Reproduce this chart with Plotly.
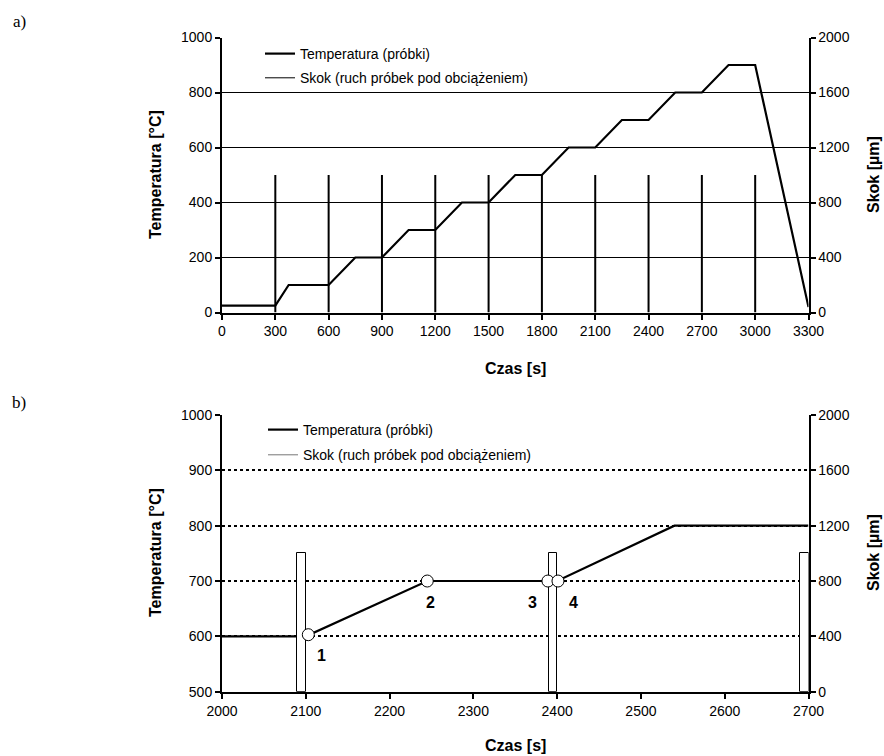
import plotly.graph_objects as go

# ---------------- data: panel a) ----------------
temp_time_a = [0, 300, 375, 600, 750, 900, 1050, 1200, 1350, 1500, 1650, 1800,
               1950, 2100, 2250, 2400, 2550, 2700, 2850, 3000, 3300]
temp_a = [25, 25, 100, 100, 200, 200, 300, 300, 400, 400, 500, 500,
          600, 600, 700, 700, 800, 800, 900, 900, 20]
skok_time_a = [300, 600, 900, 1200, 1500, 1800, 2100, 2400, 2700, 3000]
skok_a = [1000, 1000, 1000, 1000, 1000, 1000, 1000, 1000, 1000, 1000]
xticks_a = [0, 300, 600, 900, 1200, 1500, 1800, 2100, 2400, 2700, 3000, 3300]

# ---------------- data: panel b) ----------------
temp_time_b = [2000, 2100, 2245, 2400, 2540, 2700]
temp_b = [600, 600, 700, 700, 800, 800]
point_time_b = [2103, 2245, 2389, 2401]
point_temp_b = [603, 700, 700, 700]
point_labels = ["1", "2", "3", "4"]
label_time_b = [2119, 2249, 2370, 2419]
label_temp_b = [566, 662, 662, 662]
skok_time_b = [2095, 2395, 2695]
skok_b = [1000, 1000, 1000]
skok_width_b = 10
xticks_b = [2000, 2100, 2200, 2300, 2400, 2500, 2600, 2700]

W, H = 884, 756
FONT = "Liberation Sans, Arial, sans-serif"

def px_x(p):
    return p / W

def px_y(p):
    return 1 - p / H

xdom = [px_x(222), px_x(808.5)]
ydom_a = [px_y(312.5), px_y(37.5)]
ydom_b = [px_y(691.7), px_y(415)]

fig = go.Figure()

# ---- panel a traces ----
sx, sy = [], []
for t, v in zip(skok_time_a, skok_a):
    sx += [t, t, None]
    sy += [0, v, None]
fig.add_trace(go.Scatter(x=sx, y=sy, mode="lines", xaxis="x", yaxis="y2",
                         line=dict(color="black", width=2), showlegend=False,
                         hoverinfo="skip"))
fig.add_trace(go.Scatter(x=temp_time_a, y=temp_a, mode="lines", xaxis="x", yaxis="y",
                         line=dict(color="black", width=2.2),
                         name="Temperatura (próbki)", legend="legend",
                         legendgroup="a1"))
fig.add_trace(go.Scatter(x=[None], y=[None], mode="lines", xaxis="x", yaxis="y",
                         line=dict(color="black", width=1),
                         name="Skok (ruch próbek pod obciążeniem)", legend="legend",
                         legendgroup="a2"))

# ---- panel b traces ----
fig.add_trace(go.Scatter(x=temp_time_b, y=temp_b, mode="lines", xaxis="x2", yaxis="y3",
                         line=dict(color="black", width=2.2),
                         name="Temperatura (próbki)", legend="legend2",
                         legendgroup="b1"))
fig.add_trace(go.Scatter(x=[None], y=[None], mode="lines", xaxis="x2", yaxis="y3",
                         line=dict(color="#777777", width=1),
                         name="Skok (ruch próbek pod obciążeniem)", legend="legend2",
                         legendgroup="b2"))
fig.add_trace(go.Bar(x=skok_time_b, y=skok_b, width=skok_width_b, base=0,
                     xaxis="x2", yaxis="y4",
                     marker=dict(color="white", line=dict(color="black", width=1)),
                     showlegend=False, hoverinfo="skip"))
fig.add_trace(go.Scatter(x=point_time_b, y=point_temp_b, mode="markers",
                         xaxis="x2", yaxis="y5",
                         marker=dict(size=12, color="white",
                                     line=dict(color="black", width=1)),
                         showlegend=False, hoverinfo="skip"))

axis_common = dict(showline=True, linecolor="black", linewidth=2,
                   ticks="outside", ticklen=5, tickwidth=1.5, tickcolor="black",
                   zeroline=False, tickfont=dict(family=FONT, size=14, color="black"),
                   automargin=False)

annotations = []
for lab, t, v in zip(point_labels, label_time_b, label_temp_b):
    annotations.append(dict(x=t, y=v, xref="x2", yref="y3", text="<b>%s</b>" % lab,
                            showarrow=False,
                            font=dict(family=FONT, size=16, color="black")))

def paper_text(text, x, y, size=16, angle=0, bold=True, family=FONT):
    return dict(x=px_x(x), y=px_y(y), xref="paper", yref="paper",
                text=("<b>%s</b>" % text) if bold else text, showarrow=False,
                textangle=angle, xanchor="center", yanchor="middle",
                font=dict(family=family, size=size, color="black"))

annotations += [
    paper_text("a)", 19, 22, size=17, bold=False, family="Liberation Serif, serif"),
    paper_text("b)", 19, 402, size=17, bold=False, family="Liberation Serif, serif"),
    paper_text("Temperatura [°C]", 155, 175, angle=-90),
    paper_text("Skok [µm]", 873, 175, angle=-90),
    paper_text("Czas [s]", 515, 368),
    paper_text("Temperatura [°C]", 155, 553, angle=-90),
    paper_text("Skok [µm]", 873, 553, angle=-90),
    paper_text("Czas [s]", 515, 745),
]

fig.update_layout(
    width=W, height=H,
    margin=dict(l=0, r=0, t=0, b=0),
    paper_bgcolor="white", plot_bgcolor="white",
    font=dict(family=FONT, color="black"),
    bargap=0,
    xaxis=dict(domain=xdom, range=[0, 3300], tickvals=xticks_a, anchor="y",
               showgrid=False, **axis_common),
    yaxis=dict(domain=ydom_a, range=[0, 1000], dtick=200, anchor="x",
               showgrid=True, gridcolor="black", gridwidth=1, **axis_common),
    yaxis2=dict(overlaying="y", side="right", range=[0, 2000], dtick=400, anchor="x",
                showgrid=False, **axis_common),
    xaxis2=dict(domain=xdom, range=[2000, 2700], tickvals=xticks_b, anchor="y3",
                showgrid=False, **axis_common),
    yaxis3=dict(domain=ydom_b, range=[500, 1000], dtick=100, anchor="x2",
                showgrid=True, gridcolor="black", gridwidth=2, griddash="3px,3px",
                **axis_common),
    yaxis4=dict(overlaying="y3", side="right", range=[0, 2000], dtick=400, anchor="x2",
                showgrid=False, **axis_common),
    yaxis5=dict(overlaying="y3", range=[500, 1000], anchor="x2", visible=False),
    legend=dict(x=px_x(260), y=px_y(38), xanchor="left", yanchor="top",
                bgcolor="rgba(0,0,0,0)", borderwidth=0, tracegroupgap=3,
                font=dict(family=FONT, size=14, color="black")),
    legend2=dict(x=px_x(263), y=px_y(414), xanchor="left", yanchor="top",
                 bgcolor="rgba(0,0,0,0)", borderwidth=0, tracegroupgap=4,
                 font=dict(family=FONT, size=14, color="black")),
    annotations=annotations,
    showlegend=True,
)

fig.write_html("out.html", config={"displayModeBar": False},
               post_script="document.body.style.margin='0';document.body.style.padding='0';")
